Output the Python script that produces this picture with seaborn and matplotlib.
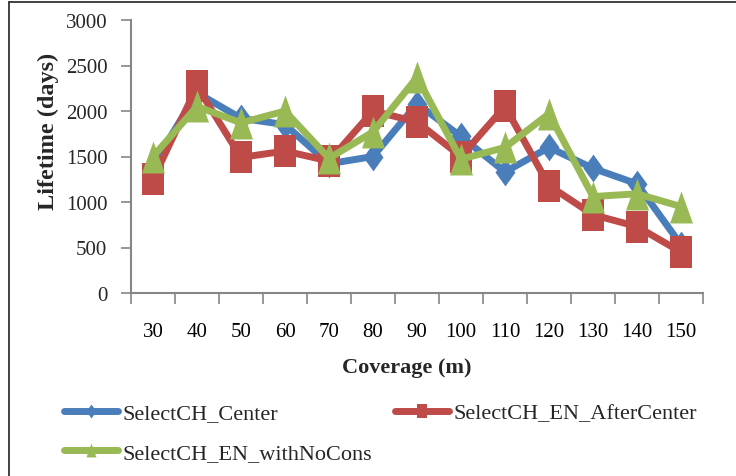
import numpy as np
import matplotlib
matplotlib.use("Agg")
import matplotlib.pyplot as plt
from matplotlib.path import Path
from matplotlib.lines import Line2D
import seaborn as sns
import pandas as pd

# Network lifetime per coverage radius for three cluster-head selection schemes
coverage = [30, 40, 50, 60, 70, 80, 90, 100, 110, 120, 130, 140, 150]
center = [1400, 2200, 1920, 1850, 1420, 1500, 2080, 1720, 1330, 1600, 1370, 1200, 530]
after_center = [1250, 2270, 1490, 1560, 1450, 2000, 1880, 1500, 2050, 1180, 860, 730, 450]
no_cons = [1500, 2050, 1870, 2000, 1480, 1770, 2370, 1470, 1600, 1970, 1060, 1090, 950]
series_names = ["SelectCH_Center", "SelectCH_EN_AfterCenter", "SelectCH_EN_withNoCons"]
y_ticks = [0, 500, 1000, 1500, 2000, 2500, 3000]

df = pd.DataFrame({
    "Coverage": coverage * 3,
    "Lifetime": center + after_center + no_cons,
    "Scheme": [series_names[0]] * 13 + [series_names[1]] * 13 + [series_names[2]] * 13,
})

sns.set_theme(style="white")
plt.rcParams["font.family"] = ["Liberation Serif", "DejaVu Serif"]
serif = "Liberation Serif"

# Slightly tall marker shapes
w = 0.36
square = Path([(-w, -0.5), (w, -0.5), (w, 0.5), (-w, 0.5), (-w, -0.5)], closed=True)
diamond = Path([(0, -0.5), (w, 0), (0, 0.5), (-w, 0), (0, -0.5)], closed=True)
triangle = Path([(-w, -0.5), (w, -0.5), (0, 0.5), (-w, -0.5)], closed=True)

colors = ["#4a7ebb", "#be4b48", "#98b954"]
markers = [diamond, square, triangle]
msizes = [20, 23, 23]

fig = plt.figure(figsize=(7.36, 4.77), dpi=100)
ax = fig.add_axes([131 / 736, 1 - 294 / 477, 572 / 736, 273 / 477])

for name, col, mk, ms in zip(series_names, colors, markers, msizes):
    sub = df[df["Scheme"] == name]
    sns.lineplot(data=sub, x="Coverage", y="Lifetime", color=col, marker=mk,
                 markersize=ms, markeredgewidth=0, linewidth=5, ax=ax,
                 legend=False, estimator=None)

ax.set_xlim(25, 155)
ax.set_ylim(0, 3000)
ax.set_xticks(coverage)
ax.set_xticks(np.arange(25, 156, 10), minor=True)
ax.set_yticks(y_ticks)
ax.tick_params(axis="x", which="major", length=0, pad=21, labelsize=15, colors="black")
ax.tick_params(axis="x", which="minor", length=8, width=1.2, color="#868686", direction="out", bottom=True)
ax.tick_params(axis="y", length=7, width=1.2, color="#868686", direction="out", pad=10, labelsize=15, left=True)
for lab in ax.get_xticklabels() + ax.get_yticklabels():
    lab.set_family(serif)

for s in ["top", "right"]:
    ax.spines[s].set_visible(False)
for s in ["left", "bottom"]:
    ax.spines[s].set_color("#868686")
    ax.spines[s].set_linewidth(1.5)
ax.grid(False)

ax.set_xlabel("Coverage (m)", fontsize=16, fontweight="bold", family=serif)
ax.xaxis.set_label_coords((407 - 131) / 572, (294 - 368) / 273)
ax.xaxis.label.set_va("center")
ax.set_ylabel("Lifetime (days)", fontsize=17.5, fontweight="bold", family=serif)
ax.yaxis.set_label_coords((48 - 131) / 572, (294 - 131) / 273)
ax.yaxis.label.set_va("center")

# Legend in two columns: Center and withNoCons on the left, AfterCenter on the right
order = [0, 2, 1]
handles = [Line2D([], [], color=colors[i], linewidth=5, marker=markers[i], markersize=10,
                  markeredgewidth=0) for i in order]
labels = [series_names[i] for i in order]
fig.legend(handles, labels, loc="upper left", bbox_to_anchor=(64 / 736, 1 - 404 / 477),
           ncol=2, frameon=False, prop={"family": serif, "size": 16}, handlelength=2.45,
           handletextpad=0.2, columnspacing=1.0, labelspacing=0.85, borderpad=0, borderaxespad=0)

# Outer frame lines along the top and left edges
fig.add_artist(Line2D([9 / 736, 9 / 736], [0, 1 - 3 / 477], transform=fig.transFigure, color="#222222", linewidth=1.2))
fig.add_artist(Line2D([9 / 736, 1], [1 - 3 / 477, 1 - 3 / 477], transform=fig.transFigure, color="#222222", linewidth=1.2))

fig.savefig("out.png", dpi=100)
